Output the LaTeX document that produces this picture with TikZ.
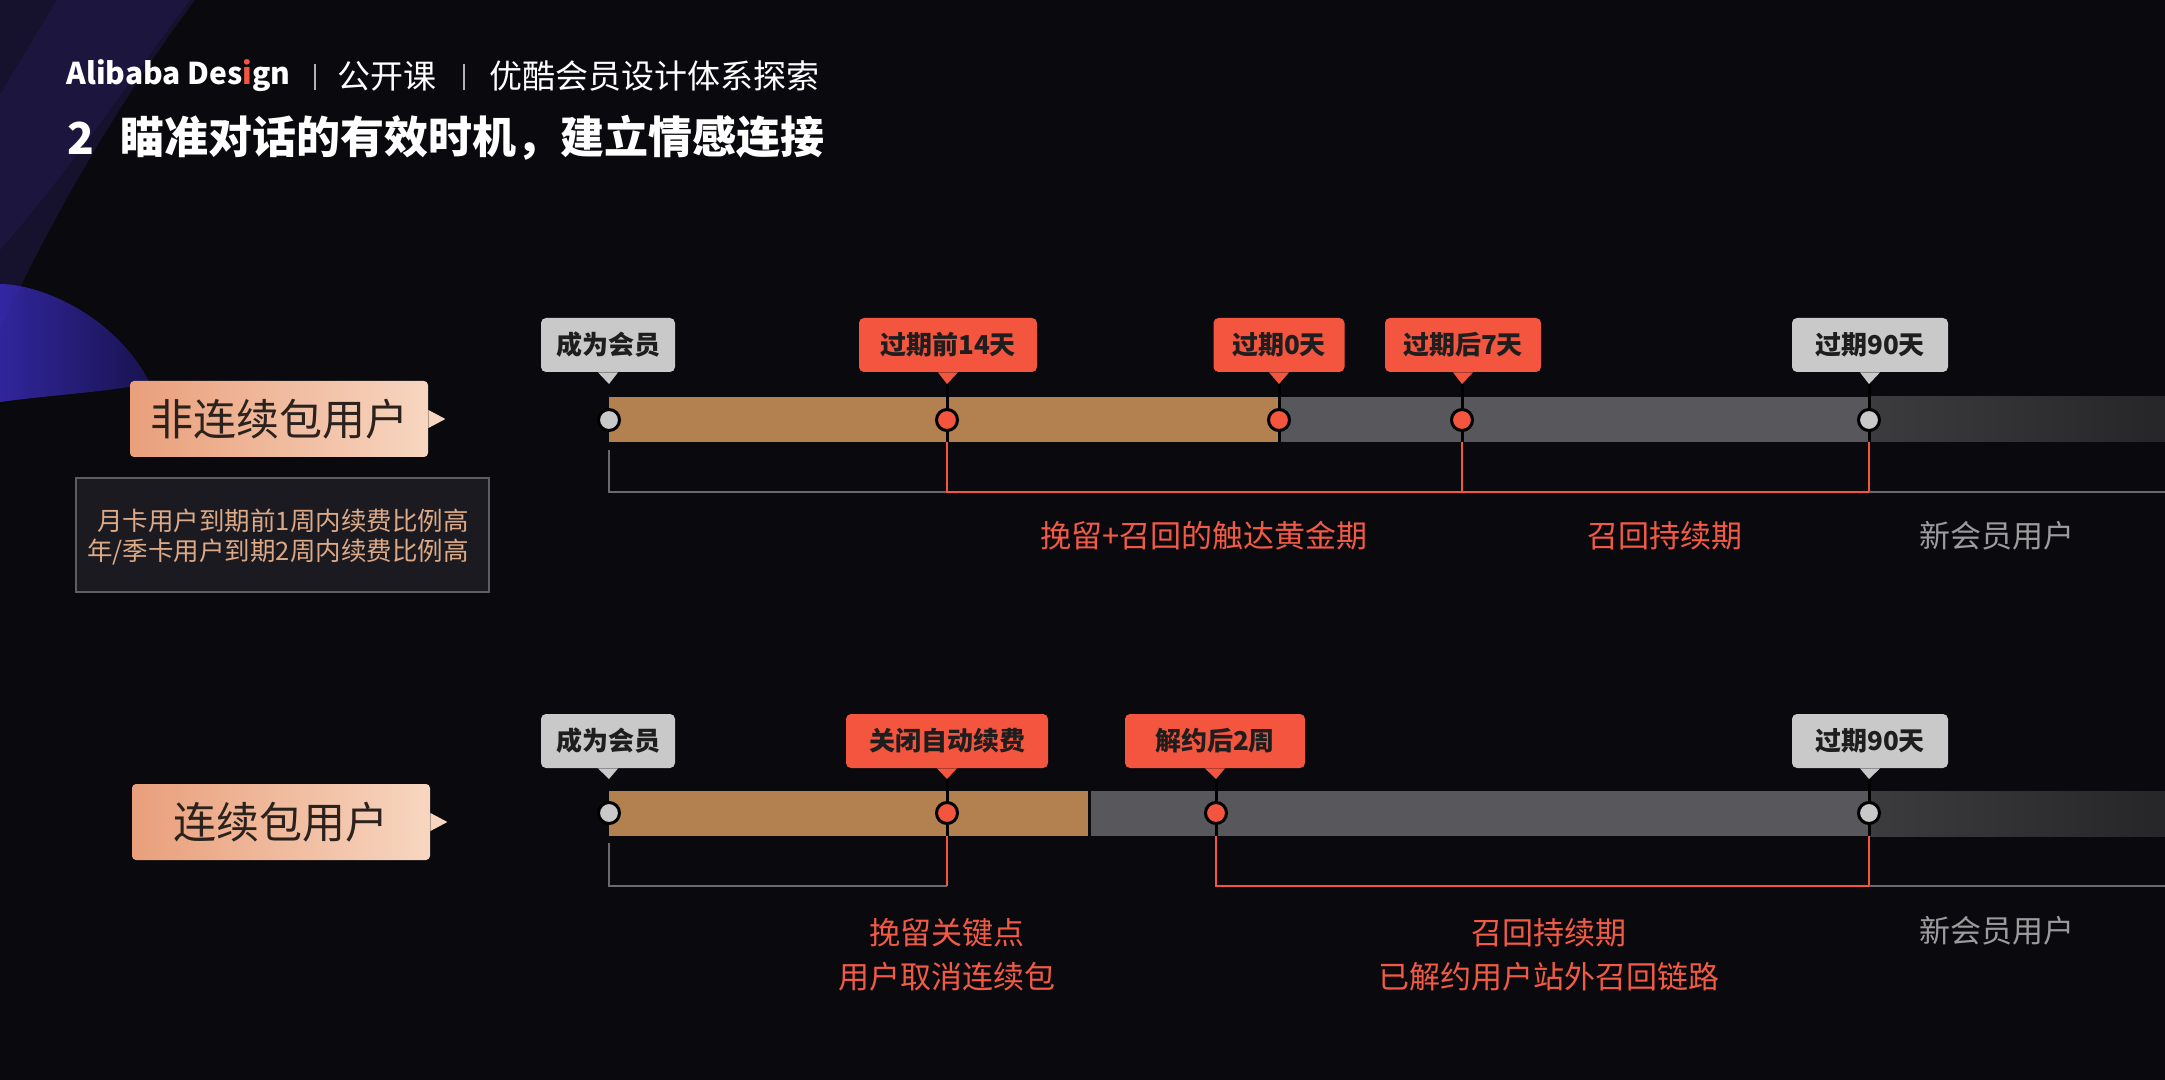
\documentclass[tikz,border=0pt]{standalone}
\usepackage{fontspec}
\setmainfont{Noto Sans CJK SC}
\definecolor{bg}{HTML}{0A090E}
\definecolor{brownbar}{HTML}{B3804F}
\definecolor{redc}{HTML}{F4553F}
\definecolor{greyc}{HTML}{C9C9CA}
\definecolor{greybar}{HTML}{58585C}
\definecolor{darkbarL}{HTML}{3C3C3E}
\definecolor{darkbarR}{HTML}{262628}
\definecolor{peachL}{HTML}{E99F7B}
\definecolor{peachR}{HTML}{F7D6C0}
\definecolor{infotext}{HTML}{DDAA88}
\definecolor{infofill}{HTML}{1B1A20}
\definecolor{infoborder}{HTML}{5E5D63}
\definecolor{labelred}{HTML}{F25A45}
\definecolor{labelgrey}{HTML}{9C9C9C}
\definecolor{bracketgrey}{HTML}{6A6A6E}
\definecolor{tagtext}{HTML}{1E1E1E}
\definecolor{purpleband}{HTML}{2A1F5C}
\definecolor{blueL}{HTML}{3A2DC0}
\definecolor{blueR}{HTML}{1E1660}
\tikzset{
  hdr/.style={inner sep=0pt, text=white, font=\fontsize{16.5}{18}\selectfont},
  ttl/.style={inner sep=0pt, text=white, font=\fontsize{22}{24}\selectfont\bfseries},
  tag/.style={rounded corners=2.5pt, minimum height=27pt, inner sep=0pt, text=tagtext, font=\fontsize{13}{14}\selectfont\bfseries},
  marker/.style={circle, draw=black, line width=1.5pt, minimum size=10.5pt, inner sep=0pt},
  stem/.style={black, line width=1.5pt},
  redline/.style={redc, line width=1.1pt},
  greyline/.style={bracketgrey, line width=1.1pt},
  lbl/.style={inner sep=0pt, align=center, font=\fontsize{15.5}{22}\selectfont},
  sidebox/.style={rounded corners=2pt, minimum width=149pt, minimum height=38pt, inner sep=0pt, left color=peachL, right color=peachR, text={rgb,255:red,43;green,33;blue,29}, font=\fontsize{21.5}{22}\selectfont},
}
\begin{document}
\begin{tikzpicture}[x=0.5pt,y=-0.5pt]
\useasboundingbox (0,0) rectangle (2165,1080);
\fill[bg] (0,0) rectangle (2165,1080);
% background decoration
\fill[purpleband, opacity=0.4] (0,0) -- (195,0) .. controls (120,100) and (50,220) .. (0,330) -- cycle;
\fill[purpleband, opacity=0.35] (57,0) -- (190,0) .. controls (130,80) and (70,170) .. (0,250) -- (0,95) -- cycle;
\shade[left color=blueL, right color=blueR, opacity=0.8] (0,284) .. controls (40,284) and (115,315) .. (150,383) .. controls (110,392) and (50,395) .. (0,402) -- cycle;

% header
\node[hdr, anchor=west, font=\fontsize{15}{18}\selectfont\bfseries] (brand) at (66,76) {Alibaba Des{\color{redc}i}gn};
\coordinate (sepA1) at (315,64); \coordinate (sepA2) at (315,90);
\draw[white!70!black, line width=0.6pt] (sepA1) -- (sepA2);
\node[hdr, anchor=west] (course) at (337,76) {公开课};
\coordinate (sepB1) at (464,64); \coordinate (sepB2) at (464,90);
\draw[white!70!black, line width=0.6pt] (sepB1) -- (sepB2);
\node[hdr, anchor=west] (topic) at (489,76) {优酷会员设计体系探索};
\node[ttl, anchor=west] (num) at (67,138) {2};
\node[ttl, anchor=west] (title) at (120,138) {瞄准对话的有效时机，建立情感连接};

% ===== top timeline =====
\fill[brownbar] (609,397) rectangle (1279,442);
\fill[greybar] (1279,397) rectangle (1869,442);
\shade[left color=darkbarL, right color=darkbarR] (1869,397) rectangle (2165,442);

% brackets top
\coordinate (ta) at (609,450); \coordinate (tb) at (947,492);
\draw[greyline] (ta) |- (tb);
\coordinate (tc) at (947,442); \coordinate (td) at (1869,492); \coordinate (te) at (1869,442);
\draw[redline] (tc) |- (td) -- (te);
\coordinate (tf) at (1462,442); \coordinate (tg) at (1462,492);
\draw[redline] (tf) -- (tg);
\coordinate (th) at (2165,492);
\draw[greyline] (td) -- (th);

% tags top
\node[tag, fill=greyc, minimum width=67pt] (ta1) at (608,345) {成为会员};
\node[tag, fill=redc, minimum width=89pt] (ta2) at (948,345) {过期前14天};
\node[tag, fill=redc, minimum width=65.5pt] (ta3) at (1279,345) {过期0天};
\node[tag, fill=redc, minimum width=78pt] (ta4) at (1463,345) {过期后7天};
\node[tag, fill=greyc, minimum width=78pt] (ta5) at (1870,345) {过期90天};
\foreach \t/\c/\x in {ta1/greyc/609, ta2/redc/947, ta3/redc/1279, ta4/redc/1462, ta5/greyc/1869}{
  \fill[\c] ([xshift=-5pt]\t.south) -- (\x,384) -- ([xshift=5pt]\t.south) -- cycle;
}
\foreach \x in {947,1279,1462,1869}{
  \draw[stem] (\x,384) -- (\x,442);
}
\node[marker, fill=greyc] (m1) at (609,420) {};
\node[marker, fill=redc] (m2) at (947,420) {};
\node[marker, fill=redc] (m3) at (1279,420) {};
\node[marker, fill=redc] (m4) at (1462,420) {};
\node[marker, fill=greyc] (m5) at (1869,420) {};

% labels top
\node[lbl, text=labelred] (l1) at (1204,536) {挽留+召回的触达黄金期};
\node[lbl, text=labelred] (l2) at (1665,536) {召回持续期};
\node[lbl, text=labelgrey] (l3) at (1997,536) {新会员用户};

% ===== bottom timeline =====
\fill[brownbar] (609,791) rectangle (1088,836);
\fill[greybar] (1091,791) rectangle (1869,836);
\shade[left color=darkbarL, right color=darkbarR] (1869,791) rectangle (2165,836);

\coordinate (ba) at (609,843); \coordinate (bb) at (947,886);
\draw[greyline] (ba) |- (bb);
\coordinate (bc) at (947,836);
\draw[redline] (bc) -- (bb);
\coordinate (bd) at (1216,836); \coordinate (be) at (1869,886); \coordinate (bf) at (1869,836);
\draw[redline] (bd) |- (be) -- (bf);
\coordinate (bg2) at (2165,886);
\draw[greyline] (be) -- (bg2);

\node[tag, fill=greyc, minimum width=67pt] (tb1) at (608,741) {成为会员};
\node[tag, fill=redc, minimum width=101pt] (tb2) at (947,741) {关闭自动续费};
\node[tag, fill=redc, minimum width=90pt] (tb3) at (1215,741) {解约后2周};
\node[tag, fill=greyc, minimum width=78pt] (tb4) at (1870,741) {过期90天};
\foreach \t/\c/\x in {tb1/greyc/609, tb2/redc/947, tb3/redc/1216, tb4/greyc/1869}{
  \fill[\c] ([xshift=-5pt]\t.south) -- (\x,779) -- ([xshift=5pt]\t.south) -- cycle;
}
\foreach \x in {947,1216,1869}{
  \draw[stem] (\x,779) -- (\x,836);
}
\node[marker, fill=greyc] (n1) at (609,813) {};
\node[marker, fill=redc] (n2) at (947,813) {};
\node[marker, fill=redc] (n3) at (1216,813) {};
\node[marker, fill=greyc] (n4) at (1869,813) {};

\node[lbl, text=labelred] (k1) at (947,955) {挽留关键点\\用户取消连续包};
\node[lbl, text=labelred] (k2) at (1549,955) {召回持续期\\已解约用户站外召回链路};
\node[lbl, text=labelgrey] (k3) at (1997,931) {新会员用户};

% ===== left side =====
\node[sidebox] (s1) at (279,419) {非连续包用户};
\fill[peachR] ([yshift=4.5pt]s1.east) -- ++(8.5pt,-4.5pt) -- ([yshift=-4.5pt]s1.east) -- cycle;
\node[draw=infoborder, fill=infofill, line width=0.6pt, minimum width=206.5pt, minimum height=57pt, inner sep=0pt] (info) at (282.5,535) {};
\node[anchor=east, inner sep=0pt, align=right, text=infotext, font=\fontsize{12.75}{15}\selectfont] (infotxt) at (469,537) {月卡用户到期前1周内续费比例高\\年/季卡用户到期2周内续费比例高};

\node[sidebox] (s2) at (281,822) {连续包用户};
\fill[peachR] ([yshift=4.5pt]s2.east) -- ++(8.5pt,-4.5pt) -- ([yshift=-4.5pt]s2.east) -- cycle;
\end{tikzpicture}
\end{document}
